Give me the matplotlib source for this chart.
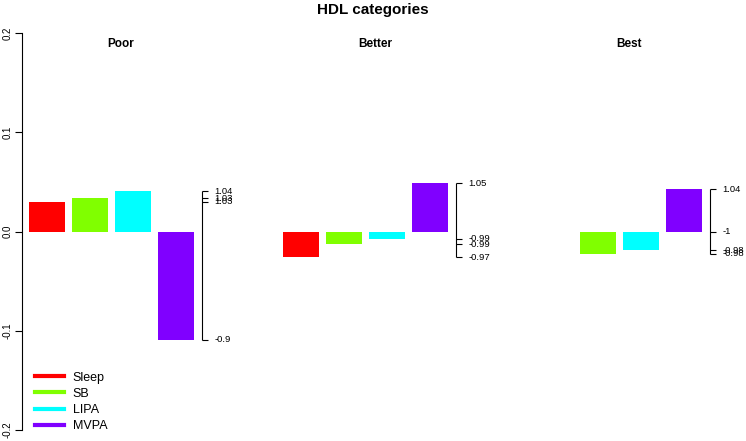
import matplotlib
matplotlib.use("Agg")
import matplotlib.pyplot as plt
from matplotlib.lines import Line2D

plt.rcParams['font.family'] = ['Liberation Sans', 'DejaVu Sans']

groups = ["Poor", "Better", "Best"]
activities = ["Sleep", "SB", "LIPA", "MVPA"]
colors = ["#FF0000", "#80FF00", "#00FFFF", "#8000FF"]

poor_vals = [0.030, 0.0336, 0.0407, -0.109]
better_vals = [-0.026, -0.0128, -0.0071, 0.0485]
best_vals = [0.0, -0.0222, -0.0189, 0.0424]

poor_labels = ["1.03", "1.03", "1.04", "-0.9"]
better_labels = ["-0.97", "-0.99", "-0.99", "1.05"]
best_labels = ["-1", "-0.98", "-0.98", "1.04"]

group_vals = [poor_vals, better_vals, best_vals]
group_labels = [poor_labels, better_labels, best_labels]

W, H = 746, 441
fig = plt.figure(figsize=(W / 100, H / 100), dpi=100)
unit = 43 / 1.2  # px per data unit
ax = fig.add_axes([22 / W, 1 - 430 / H, (W - 22) / W, (430 - 33) / H])
ax.set_xlim(0, (W - 22) / unit)
ax.set_ylim(-0.2, 0.2)

group_step = 7.085
for g, (name, vals, labs) in enumerate(zip(groups, group_vals, group_labels)):
    off = g * group_step
    xs = [off + 0.706 + 1.2 * i for i in range(len(vals))]
    ax.bar(xs, vals, width=1.0, color=colors, linewidth=0)
    axx = off + 0.706 + 4.33
    ax.plot([axx, axx], [min(vals), max(vals)], color="black", lw=0.8,
            solid_capstyle="butt")
    for v, lab in zip(vals, labs):
        ax.plot([axx, axx + 0.16], [v, v], color="black", lw=0.8,
                solid_capstyle="butt")
        ax.text(axx + 0.34, v, lab, fontsize=6.8, va="center", ha="left")
    ax.text(off + 2.76, 0.189, name, fontsize=8.5, fontweight="bold",
            ha="center", va="center")

for s in ["top", "right", "bottom"]:
    ax.spines[s].set_visible(False)
ax.spines["left"].set_bounds(-0.2, 0.2)
ax.spines["left"].set_linewidth(0.8)
ax.set_xticks([])
yt = [-0.2, -0.1, 0.0, 0.1, 0.2]
ax.set_yticks(yt)
ax.set_yticklabels(["-0.2", "-0.1", "0.0", "0.1", "0.2"], rotation=90,
                   va="center", fontsize=7)
ax.tick_params(axis="y", length=5, width=0.8, pad=2)

fig.text(0.5, 1 - 10 / H, "HDL categories", ha="center", va="center",
         fontsize=11, fontweight="bold")

handles = [Line2D([0], [0], color=c, lw=3) for c in colors]
leg = ax.legend(handles, activities, loc="lower left",
                bbox_to_anchor=(35 / W, 1 - 432 / H),
                bbox_transform=fig.transFigure, frameon=False, fontsize=9,
                handlelength=2.3, handletextpad=0.7, labelspacing=0.33,
                borderaxespad=0, borderpad=0)

fig.savefig("out.png", dpi=100)
